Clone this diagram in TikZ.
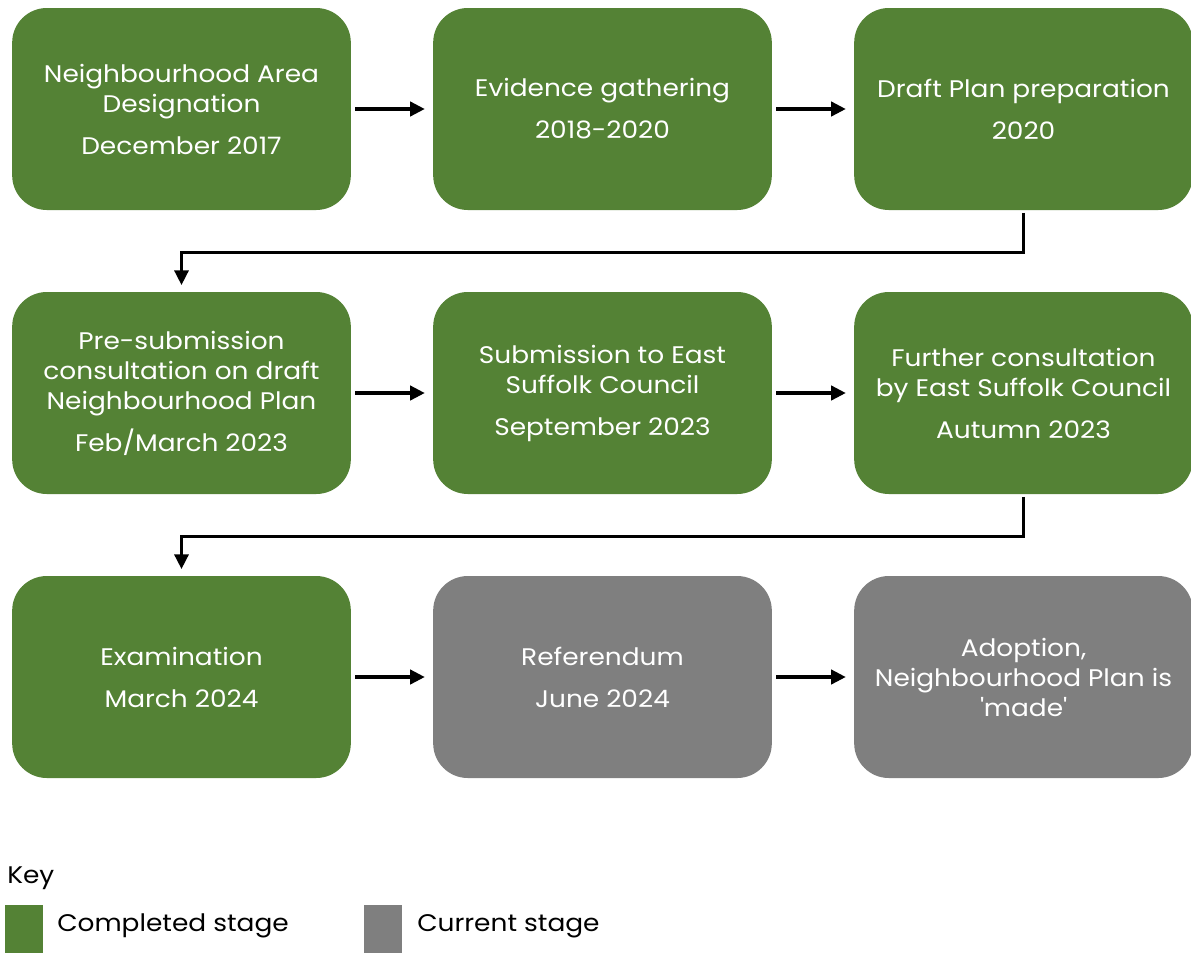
\documentclass[tikz,border=0pt]{standalone}
\usepackage{fontspec}
\setmainfont[FakeStretch=1.1]{Poppins}
\usetikzlibrary{arrows.meta}
\definecolor{stagegreen}{HTML}{548235}
\definecolor{stagegray}{HTML}{7F7F7F}
\newcommand{\stagefont}{\fontsize{18pt}{22.5pt}\selectfont}
\tikzset{
  stage/.style={rounded corners=26pt, minimum width=254pt, minimum height=151.5pt,
    align=center, text=white, font=\stagefont, inner sep=0pt, fill=stagegreen},
  current/.style={stage, fill=stagegray},
  arr/.style={line width=3pt, -{Triangle[length=11pt,width=10.5pt]}},
  elbow/.style={line width=2.3pt, -{Triangle[length=11pt,width=10.5pt]}},
  keybox/.style={minimum width=28.5pt, minimum height=36pt, inner sep=0pt},
  keytext/.style={font=\stagefont, inner sep=0pt, anchor=west, text=black}
}
\begin{document}
\begin{tikzpicture}[x=0.75pt,y=-0.75pt]
\useasboundingbox (0,0) rectangle (1191,954);
\begin{scope}
\clip (0,0) rectangle (1191,954);
\node[stage] (a1) at (181.5,109) {Neighbourhood Area\\Designation\\[9pt]December 2017};
\node[stage] (a2) at (602.5,109) {Evidence gathering\\[9pt]2018-2020};
\node[stage] (a3) at (1023.5,109) {Draft Plan preparation\\[9pt]2020};
\node[stage] (b1) at (181.5,393) {Pre-submission\\consultation on draft\\Neighbourhood Plan\\[9pt]Feb/March 2023};
\node[stage] (b2) at (602.5,393) {Submission to East\\Suffolk Council\\[9pt]September 2023};
\node[stage] (b3) at (1023.5,393) {Further consultation\\by East Suffolk Council\\[9pt]Autumn 2023};
\node[stage] (c1) at (181.5,677) {Examination\\[9pt]March 2024};
\node[current] (c2) at (602.5,677) {Referendum\\[9pt]June 2024};
\node[current] (c3) at (1023.5,677) {Adoption,\\Neighbourhood Plan is\\\textquotesingle made\textquotesingle};
\end{scope}
\draw[arr] ([xshift=3pt]a1.east) -- ([xshift=-6pt]a2.west);
\draw[arr] ([xshift=3pt]a2.east) -- ([xshift=-6pt]a3.west);
\draw[arr] ([xshift=3pt]b1.east) -- ([xshift=-6pt]b2.west);
\draw[arr] ([xshift=3pt]b2.east) -- ([xshift=-6pt]b3.west);
\draw[arr] ([xshift=3pt]c1.east) -- ([xshift=-6pt]c2.west);
\draw[arr] ([xshift=3pt]c2.east) -- ([xshift=-6pt]c3.west);
\draw[elbow] ([yshift=-2pt]a3.south) -- ++(0,40) -| ([yshift=5pt]b1.north);
\draw[elbow] ([yshift=-2pt]b3.south) -- ++(0,40) -| ([yshift=5pt]c1.north);
\node[keytext] (key) at (7,878) {Key};
\node[keybox, fill=stagegreen] (k1) at (24,929) {};
\node[keytext] (k1t) at (57,926) {Completed stage};
\node[keybox, fill=stagegray] (k2) at (383,929) {};
\node[keytext] (k2t) at (417,926) {Current stage};
\end{tikzpicture}
\end{document}
